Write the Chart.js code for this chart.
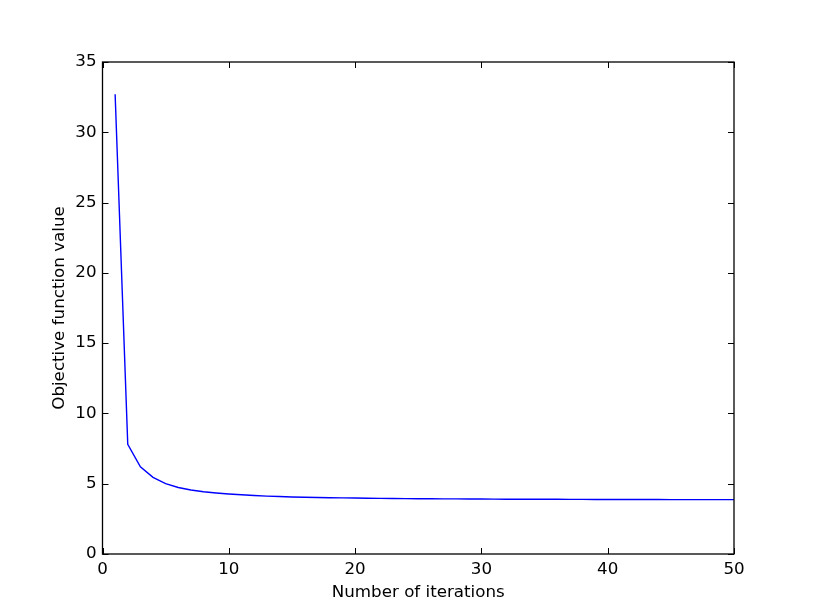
<!DOCTYPE html>
<html>
<head>
<meta charset="utf-8">
<script src="https://cdn.jsdelivr.net/npm/chart.js@4"></script>
<style>
  html, body { margin: 0; padding: 0; background: #fff; }
  #wrap { width: 815px; height: 615px; }
</style>
</head>
<body>
<div id="wrap"><canvas id="chart" width="815" height="615"></canvas></div>
<script>
// iterations 1..50 and objective value
const iterations = [
  1, 2, 3, 4, 5, 6, 7, 8, 9, 10,
  11, 12, 13, 14, 15, 16, 17, 18, 19, 20,
  21, 22, 23, 24, 25, 26, 27, 28, 29, 30,
  31, 32, 33, 34, 35, 36, 37, 38, 39, 40,
  41, 42, 43, 44, 45, 46, 47, 48, 49, 50
];
const objective = [
  32.7, 7.8, 6.2, 5.45, 5.0, 4.73, 4.55, 4.43, 4.34, 4.27,
  4.21, 4.16, 4.12, 4.09, 4.06, 4.04, 4.02, 4.0, 3.99, 3.98,
  3.97, 3.96, 3.95, 3.94, 3.935, 3.93, 3.925, 3.92, 3.915, 3.91,
  3.905, 3.9, 3.9, 3.895, 3.89, 3.89, 3.885, 3.885, 3.88, 3.88,
  3.88, 3.875, 3.875, 3.875, 3.87, 3.87, 3.87, 3.87, 3.87, 3.87
];
const xTicks = [0, 10, 20, 30, 40, 50];
const yTicks = [0, 5, 10, 15, 20, 25, 30, 35];

const points = iterations.map((it, i) => ({ x: it, y: objective[i] }));
const font = { family: "'DejaVu Sans', sans-serif", size: 16.7 };

// matplotlib classic look: black frame and ticks pointing inwards on all sides
const frameTicks = {
  id: "frameTicks",
  afterDatasetsDraw(chart) {
    const { ctx, chartArea: a, scales } = chart;
    const len = 6;
    ctx.save();
    ctx.strokeStyle = "#000";
    ctx.lineWidth = 1;
    ctx.beginPath();
    scales.x.ticks.forEach((t) => {
      const px = Math.round(scales.x.getPixelForValue(t.value)) + 0.5;
      ctx.moveTo(px, a.bottom); ctx.lineTo(px, a.bottom - len);
      ctx.moveTo(px, a.top); ctx.lineTo(px, a.top + len);
    });
    scales.y.ticks.forEach((t) => {
      const py = Math.round(scales.y.getPixelForValue(t.value)) + 0.5;
      ctx.moveTo(a.left, py); ctx.lineTo(a.left + len, py);
      ctx.moveTo(a.right, py); ctx.lineTo(a.right - len, py);
    });
    ctx.stroke();
    ctx.lineWidth = 1.3;
    ctx.strokeRect(a.left, a.top, a.right - a.left, a.bottom - a.top);
    ctx.restore();
  }
};

new Chart(document.getElementById("chart"), {
  type: "line",
  data: {
    datasets: [{
      data: points,
      borderColor: "#0000ff",
      borderWidth: 1.4,
      pointRadius: 0,
      fill: false,
      tension: 0
    }]
  },
  options: {
    responsive: false,
    animation: false,
    layout: { padding: { left: 0, top: 62, right: 81, bottom: 0 } },
    plugins: { legend: { display: false }, tooltip: { enabled: false } },
    scales: {
      x: {
        type: "linear",
        min: 0,
        max: 50,
        afterBuildTicks: (s) => { s.ticks = xTicks.map((v) => ({ value: v })); },
        afterFit: (s) => { s.height = 61; },
        grid: { display: false, drawTicks: false },
        border: { display: false },
        ticks: { color: "#000", font, padding: 6, maxRotation: 0 },
        title: {
          display: true,
          text: "Number of iterations",
          color: "#000",
          font,
          padding: { top: 0, bottom: 12 }
        }
      },
      y: {
        min: 0,
        max: 35,
        afterBuildTicks: (s) => { s.ticks = yTicks.map((v) => ({ value: v })); },
        afterFit: (s) => { s.width = 102.5; },
        grid: { display: false, drawTicks: false },
        border: { display: false },
        ticks: { color: "#000", font, padding: 6 },
        title: {
          display: true,
          text: "Objective function value",
          color: "#000",
          font,
          padding: { top: 50, bottom: 0 }
        }
      }
    }
  },
  plugins: [frameTicks]
});
</script>
</body>
</html>
